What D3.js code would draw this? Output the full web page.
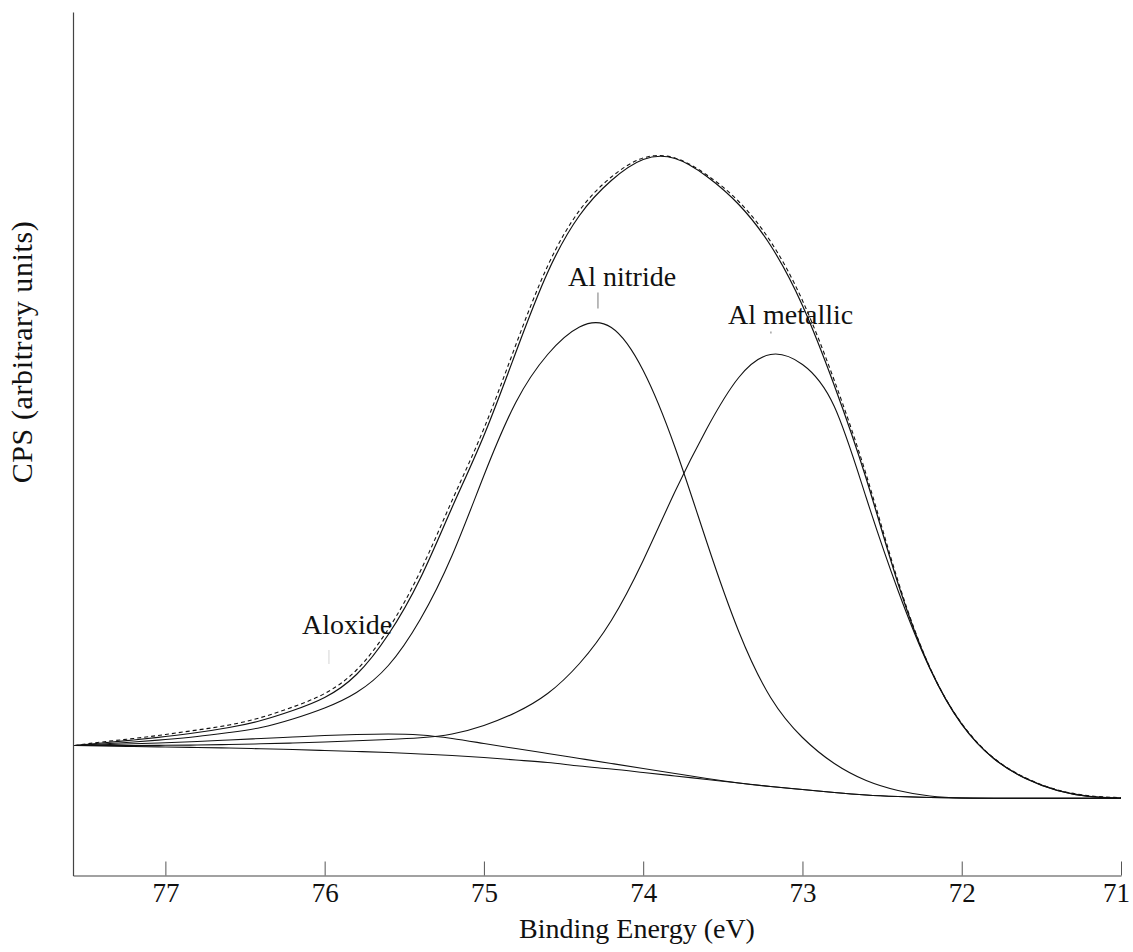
<!DOCTYPE html>
<html>
<head>
<meta charset="utf-8">
<script src="https://cdn.jsdelivr.net/npm/d3@7/dist/d3.min.js"></script>
<style>
  html, body { margin: 0; padding: 0; background: #fff; }
  svg { display: block; }
</style>
</head>
<body>
<svg id="chart" width="1133" height="952"></svg>
<script>
const FONT = '"Liberation Serif", "Times New Roman", Times, "DejaVu Serif", "Noto Serif", serif';

// Binding energies (eV) at which the curves were read
const energy = [77.57, 77.4, 77.2, 77.0, 76.8, 76.6, 76.4, 76.2, 76.0, 75.8, 75.6, 75.4, 75.2, 75.0, 74.8, 74.6, 74.4,
                74.2, 74.0, 73.8, 73.6, 73.4, 73.2, 73.0, 72.8, 72.6, 72.4, 72.2, 72.0, 71.8, 71.6, 71.4, 71.2, 71.0];

// CPS (arbitrary units)
const measured = [1300, 1335, 1370, 1410, 1455, 1505, 1580, 1685, 1820, 2055, 2465, 3040, 3750, 4470, 5305, 6095, 6650,
                  6985, 7175, 7175, 7005, 6740, 6340, 5750, 4950, 4010, 2945, 2080, 1520, 1177, 977, 857, 797, 779];
const envelope = [1300, 1325, 1355, 1390, 1430, 1480, 1550, 1650, 1780, 2010, 2410, 2970, 3680, 4400, 5230, 6030, 6600,
                  6950, 7160, 7170, 6990, 6710, 6300, 5700, 4900, 3970, 2920, 2075, 1515, 1172, 972, 852, 792, 774];
const alNitride = [1300, 1315, 1335, 1360, 1390, 1430, 1480, 1565, 1675, 1830, 2100, 2560, 3200, 4000, 4730, 5210, 5485,
                   5480, 5050, 4280, 3330, 2440, 1780, 1380, 1120, 950, 850, 795, 775, 773, 772, 772, 772, 772];
const alMetallic = [1300, 1300, 1300, 1302, 1305, 1310, 1317, 1325, 1335, 1347, 1360, 1377, 1415, 1500, 1630, 1820, 2120,
                    2550, 3150, 3840, 4470, 4980, 5210, 5110, 4690, 3780, 2850, 2070, 1510, 1170, 970, 850, 790, 772];
const alOxide = [1300, 1307, 1317, 1328, 1340, 1355, 1370, 1385, 1400, 1410, 1415, 1405, 1370, 1320, 1270, 1220, 1170,
                 1120, 1070, 1020, 970, 925, 890, 860, 830, 805, 790, 780, 775, 773, 772, 772, 772, 772];
const background = [1300, 1295, 1290, 1285, 1280, 1275, 1267, 1260, 1250, 1240, 1230, 1215, 1200, 1180, 1155, 1130, 1095,
                    1065, 1030, 995, 960, 925, 890, 860, 830, 805, 790, 780, 775, 773, 772, 772, 772, 772];

const xTicks = [77, 76, 75, 74, 73, 72, 71];

// Peak labels: [text, energy of text start, cps of baseline]
const labels = [["Al nitride", 74.472, 5900], ["Al metallic", 73.467, 5520], ["Aloxide", 76.142, 2420]];
// Small marker strokes under labels: [energy, cpsTop, cpsBottom, dotted]
const markers = [[74.284, 5830, 5670, false], [73.198, 5440, 5420, false], [75.973, 2250, 2120, true]];

const svg = d3.select("#chart");
const x = d3.scaleLinear().domain([77.58, 71.0]).range([73, 1121]);
const y = d3.scaleLinear().domain([0, 8630]).range([875.5, 12.5]);

// x axis
const xAxis = d3.axisBottom(x).tickValues(xTicks).tickFormat(d3.format("d"))
  .tickSizeInner(-14).tickSizeOuter(0).tickPadding(7);
const gx = svg.append("g").attr("transform", "translate(0,875.5)").call(xAxis)
  .attr("font-family", FONT);
gx.select(".domain").attr("stroke", "#444").attr("stroke-width", 1.2);
gx.selectAll(".tick line").attr("stroke", "#555").attr("stroke-width", 1);
gx.selectAll(".tick text").attr("font-size", 27).attr("fill", "#111").attr("font-family", FONT)
  .attr("dx", d => d === 71 ? -5 : 0);

// y axis (no ticks)
svg.append("line").attr("x1", 73.5).attr("x2", 73.5).attr("y1", 12.5).attr("y2", 876)
  .attr("stroke", "#444").attr("stroke-width", 1.2);

svg.append("text").attr("x", 637).attr("y", 938).attr("text-anchor", "middle")
  .attr("font-family", FONT).attr("font-size", 28).attr("fill", "#111").text("Binding Energy (eV)");
svg.append("text").attr("transform", "translate(32,352) rotate(-90)").attr("text-anchor", "middle")
  .attr("font-family", FONT).attr("font-size", 30).attr("letter-spacing", 0.6).attr("fill", "#111")
  .text("CPS (arbitrary units)");

// curves
const line = d3.line().x(d => x(d[0])).y(d => y(d[1])).curve(d3.curveNatural);
const series = [
  {v: background, dash: null, w: 1.1},
  {v: alOxide, dash: null, w: 1.1},
  {v: alMetallic, dash: null, w: 1.1},
  {v: alNitride, dash: null, w: 1.1},
  {v: envelope, dash: null, w: 1.2},
  {v: measured, dash: "4,3", w: 1.1}
];
series.forEach(s => {
  svg.append("path").datum(energy.map((e, i) => [e, s.v[i]]))
    .attr("d", line).attr("fill", "none").attr("stroke", "#111")
    .attr("stroke-width", s.w).attr("stroke-dasharray", s.dash);
});

// labels
labels.forEach(l => {
  svg.append("text").attr("x", x(l[1])).attr("y", y(l[2])).attr("font-family", FONT)
    .attr("font-size", 28).attr("fill", "#111").text(l[0]);
});
markers.forEach(m => {
  svg.append("line").attr("x1", x(m[0])).attr("x2", x(m[0])).attr("y1", y(m[1])).attr("y2", y(m[2]))
    .attr("stroke", m[3] ? "#aaa" : "#777").attr("stroke-width", 1)
    .attr("stroke-dasharray", m[3] ? "1,1" : null);
});
</script>
</body>
</html>
